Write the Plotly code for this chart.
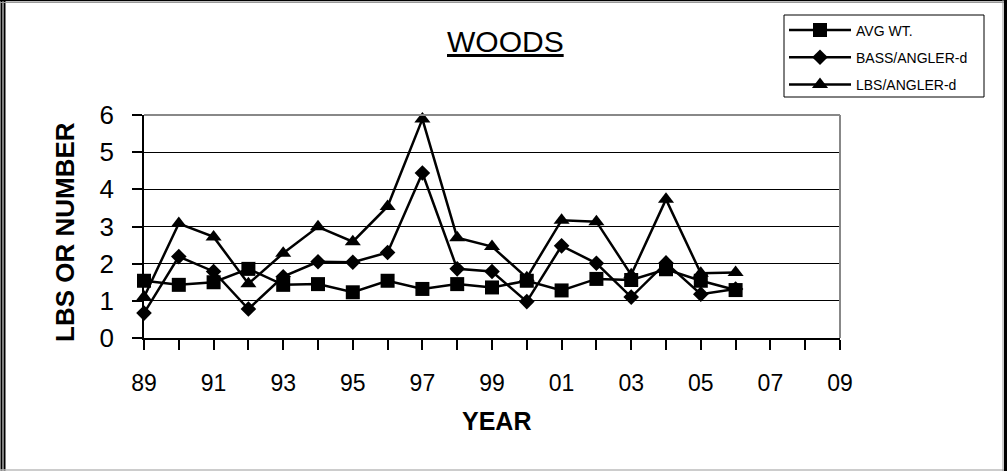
import plotly.graph_objects as go

# data
years = [89, 90, 91, 92, 93, 94, 95, 96, 97, 98, 99, 100, 101, 102, 103, 104, 105, 106]
avg_wt = [1.54, 1.43, 1.50, 1.86, 1.43, 1.45, 1.23, 1.54, 1.32, 1.45, 1.36, 1.54, 1.28, 1.59, 1.56, 1.85, 1.54, 1.29]
bass_per_angler = [0.67, 2.19, 1.79, 0.78, 1.65, 2.05, 2.04, 2.30, 4.44, 1.86, 1.79, 0.98, 2.48, 2.01, 1.10, 2.02, 1.18, 1.32]
lbs_per_angler = [1.10, 3.08, 2.72, 1.46, 2.28, 2.99, 2.59, 3.54, 5.89, 2.70, 2.46, 1.62, 3.17, 3.13, 1.70, 3.73, 1.74, 1.76]

tick_years = list(range(89, 110))
tick_text = ["89", "", "91", "", "93", "", "95", "", "97", "", "99", "",
             "01", "", "03", "", "05", "", "07", "", "09"]

W, H = 1007, 471
L, R, T, B = 144, 167, 115, 133
PW, PH = W - L - R, H - T - B


def px_x(px):
    return (px - L) / PW


def px_y(py):
    return (H - B - py) / PH


FONT = "Arial, Liberation Sans, sans-serif"

fig = go.Figure()

series = [
    ("AVG WT.", avg_wt, "square", 14),
    ("BASS/ANGLER-d", bass_per_angler, "diamond", 12),
    ("LBS/ANGLER-d", lbs_per_angler, "triangle-up", 14),
]
for i, (name, vals, sym, size) in enumerate(series):
    fig.add_trace(go.Scatter(
        x=years, y=vals, name=name, mode="lines+markers",
        line=dict(color="black", width=2.5),
        marker=dict(symbol=sym, size=size, color="black"),
        cliponaxis=False, legendgroup=str(i),
    ))

fig.update_xaxes(
    range=[89, 109], tickvals=tick_years, ticktext=tick_text,
    showgrid=False, zeroline=False, showline=True, linecolor="black", linewidth=1.5,
    ticks="outside", ticklen=10, tickcolor="black", tickwidth=1.5,
    tickfont=dict(family=FONT, size=23, color="black"), ticklabelstandoff=14,
)
fig.update_yaxes(
    range=[0, 6], dtick=1,
    showgrid=True, gridcolor="black", gridwidth=1.2, zeroline=False,
    showline=True, linecolor="black", linewidth=1.5,
    ticks="outside", ticklen=10, tickcolor="black", tickwidth=1.5,
    tickfont=dict(family=FONT, size=26, color="black"), ticklabelstandoff=13,
)

shapes = [
    # plot area border (top/right grey)
    dict(type="line", xref="paper", yref="paper", x0=0, x1=1, y0=1, y1=1,
         line=dict(color="#888888", width=2)),
    dict(type="line", xref="paper", yref="paper", x0=1, x1=1, y0=0, y1=1,
         line=dict(color="#888888", width=2)),
    # legend box
    dict(type="rect", xref="paper", yref="paper", x0=px_x(784), x1=px_x(984), y0=px_y(15), y1=px_y(97),
         line=dict(color="black", width=1)),
    # outer frame
    dict(type="line", xref="paper", yref="paper", x0=px_x(1.5), x1=px_x(1.5), y0=px_y(0), y1=px_y(471),
         line=dict(color="black", width=2)),
    dict(type="line", xref="paper", yref="paper", x0=px_x(4.5), x1=px_x(4.5), y0=px_y(0), y1=px_y(471),
         line=dict(color="black", width=2)),
    dict(type="line", xref="paper", yref="paper", x0=px_x(0), x1=px_x(1007), y0=px_y(0.5), y1=px_y(0.5),
         line=dict(color="black", width=1.5)),
    dict(type="line", xref="paper", yref="paper", x0=px_x(0), x1=px_x(1004), y0=px_y(2.5), y1=px_y(2.5),
         line=dict(color="#999999", width=1)),
    dict(type="line", xref="paper", yref="paper", x0=px_x(0), x1=px_x(1004), y0=px_y(470), y1=px_y(470),
         line=dict(color="#bbbbbb", width=1.5)),
    dict(type="line", xref="paper", yref="paper", x0=px_x(1005.5), x1=px_x(1005.5), y0=px_y(0), y1=px_y(471),
         line=dict(color="black", width=3)),
    dict(type="line", xref="paper", yref="paper", x0=px_x(1003), x1=px_x(1003), y0=px_y(0), y1=px_y(471),
         line=dict(color="#999999", width=1)),
]

annotations = [
    dict(text="<u>WOODS</u>", x=px_x(505), y=px_y(42), xref="paper", yref="paper",
         xanchor="center", yanchor="middle",
         showarrow=False, font=dict(family=FONT, size=30, color="black")),
    dict(text="<b>YEAR</b>", x=px_x(496), y=px_y(421), xref="paper", yref="paper",
         xanchor="center", yanchor="middle",
         showarrow=False, font=dict(family=FONT, size=25, color="black")),
    dict(text="<b>LBS OR NUMBER</b>", x=px_x(65), y=px_y(232), xref="paper", yref="paper",
         xanchor="center", yanchor="middle",
         showarrow=False, textangle=-90, font=dict(family=FONT, size=26, color="black")),
]

fig.update_layout(
    width=W, height=H,
    margin=dict(l=L, r=R, t=T, b=B),
    paper_bgcolor="white", plot_bgcolor="white",
    showlegend=True,
    legend=dict(
        x=px_x(784), y=px_y(14.5), xanchor="left", yanchor="top",
        borderwidth=0, bgcolor="rgba(0,0,0,0)",
        font=dict(family=FONT, size=14, color="black"),
        tracegroupgap=6, traceorder="grouped", itemwidth=62,
    ),
    shapes=shapes,
    annotations=annotations,
)

fig.write_html("out.html", config={"displayModeBar": False},
               post_script="document.body.style.margin='0px';")
